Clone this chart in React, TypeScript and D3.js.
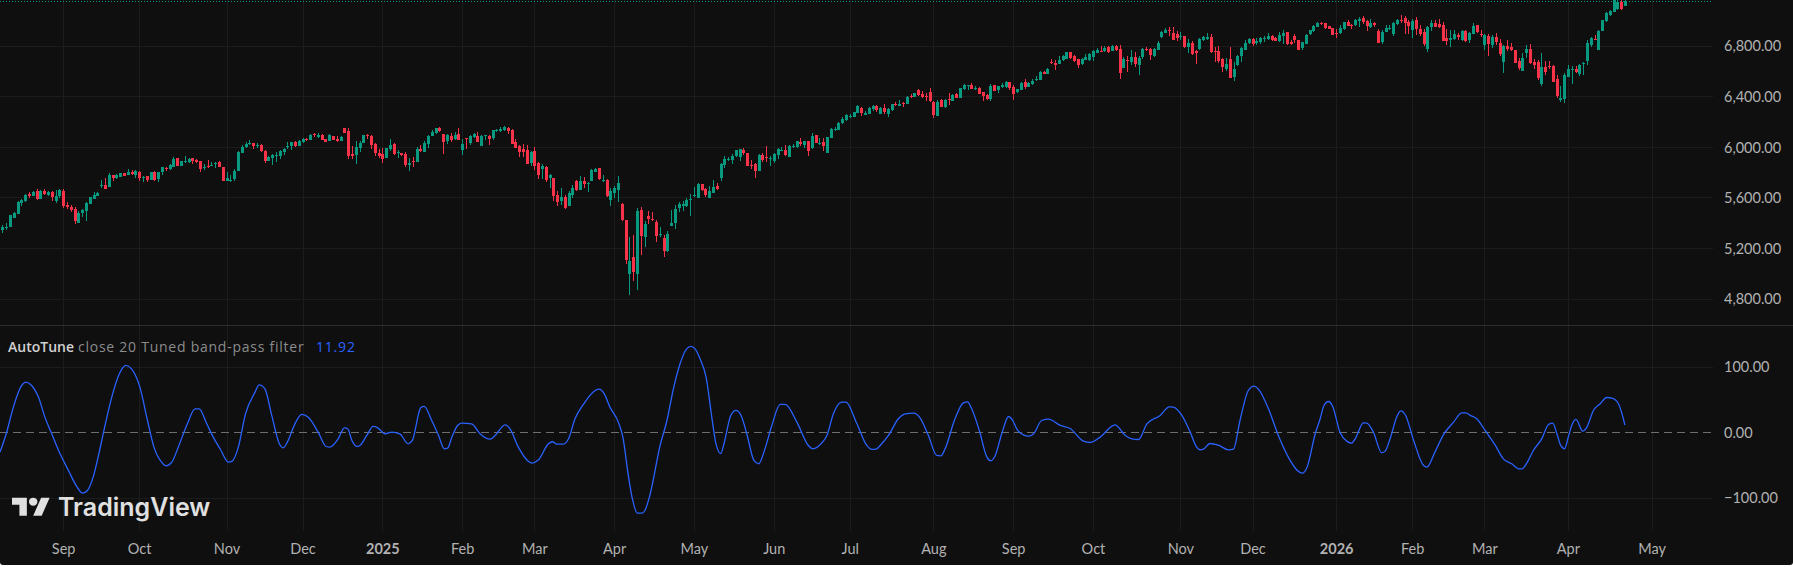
import React, { useEffect, useRef } from "react";
import { select, scaleLinear, axisRight, axisBottom, line, curveMonotoneX, range } from "d3";

const priceTicks = [4800, 5200, 5600, 6000, 6400, 6800];
const oscTicks = [-100, 0, 100];
const monthLabels = ["Sep", "Oct", "Nov", "Dec", "2025", "Feb", "Mar", "Apr", "May", "Jun", "Jul", "Aug", "Sep", "Oct", "Nov", "Dec", "2026", "Feb", "Mar", "Apr", "May"];
const monthBars = [16, 36, 59, 79, 100, 121, 140, 161, 182, 203, 223, 245, 266, 287, 310, 329, 351, 371, 390, 412, 434];

const opens = [
  5346, 5358, 5369, 5445, 5474, 5559, 5575, 5630, 5617, 5651,
  5593, 5651, 5625, 5646, 5572, 5614, 5654, 5543, 5525, 5511,
  5403, 5480, 5495, 5554, 5591, 5617, 5694, 5699, 5686, 5778,
  5759, 5767, 5796, 5781, 5804, 5781, 5804, 5757, 5770, 5741,
  5804, 5749, 5802, 5836, 5831, 5847, 5913, 5855, 5884, 5884,
  5913, 5899, 5889, 5842, 5852, 5855, 5873, 5884, 5841, 5733,
  5733, 5746, 5815, 5957, 6002, 6026, 6031, 6013, 6018, 5971,
  5892, 5918, 5936, 5928, 5963, 6005, 6013, 6042, 6013, 6042,
  6066, 6060, 6103, 6082, 6097, 6066, 6050, 6089, 6066, 6050,
  6153, 6129, 5947, 5939, 5994, 6034, 6097, 6089, 6026, 5955,
  5947, 5915, 5987, 6026, 5958, 5955, 5947, 5860, 5892, 5884,
  5987, 5963, 6026, 6089, 6113, 6153, 6106, 6053, 6090, 6066,
  6106, 5979, 6074, 6035, 6082, 6090, 6011, 6093, 6090, 6074,
  6132, 6130, 6137, 6153, 6137, 6042, 6011, 5987, 5979, 5876,
  5971, 5876, 5829, 5845, 5757, 5757, 5623, 5575, 5607, 5536,
  5623, 5734, 5662, 5734, 5713, 5734, 5805, 5837, 5736, 5742,
  5583, 5639, 5662, 5551, 5425, 4997, 5132, 4997, 5504, 5290,
  5456, 5433, 5409, 5309, 5282, 5180, 5377, 5401, 5520, 5536,
  5536, 5586, 5618, 5599, 5710, 5670, 5599, 5639, 5694, 5757,
  5860, 5905, 5900, 5932, 5924, 5979, 5955, 5860, 5868, 5813,
  5940, 5924, 5911, 5892, 5940, 5974, 5979, 5924, 6006, 6003,
  6042, 6019, 6050, 5995, 6098, 6029, 6042, 5955, 6074, 6140,
  6137, 6193, 6217, 6243, 6240, 6272, 6312, 6256, 6264, 6304,
  6327, 6264, 6312, 6264, 6296, 6343, 6327, 6351, 6343, 6407,
  6399, 6454, 6422, 6407, 6438, 6359, 6248, 6375, 6319, 6380,
  6367, 6422, 6391, 6462, 6489, 6494, 6465, 6470, 6438, 6415,
  6383, 6494, 6454, 6478, 6478, 6517, 6478, 6438, 6454, 6517,
  6478, 6502, 6539, 6533, 6596, 6581, 6676, 6668, 6660, 6692,
  6700, 6755, 6723, 6700, 6660, 6692, 6692, 6715, 6747, 6763,
  6763, 6795, 6763, 6802, 6779, 6628, 6692, 6676, 6715, 6652,
  6715, 6779, 6779, 6723, 6771, 6874, 6905, 6929, 6905, 6897,
  6876, 6882, 6795, 6826, 6763, 6779, 6850, 6858, 6874, 6763,
  6763, 6700, 6620, 6700, 6557, 6652, 6723, 6771, 6826, 6858,
  6826, 6834, 6861, 6858, 6882, 6866, 6842, 6882, 6913, 6834,
  6882, 6850, 6787, 6818, 6897, 6921, 6953, 6984, 6984, 6961,
  6945, 6905, 6905, 6937, 6992, 6971, 6969, 7000, 7024, 7000,
  6953, 6984, 6921, 6834, 6913, 6940, 6897, 6977, 7008, 7024,
  6992, 6929, 7008, 6937, 6913, 6779, 6953, 6984, 6977, 6969,
  6866, 6850, 6858, 6889, 6850, 6921, 6850, 6897, 6969, 6897,
  6810, 6882, 6810, 6874, 6826, 6676, 6802, 6795, 6771, 6684,
  6604, 6747, 6779, 6676, 6676, 6502, 6636, 6644, 6644, 6541,
  6375, 6383, 6557, 6615, 6620, 6581, 6663, 6684, 6810, 6858,
  6771, 6921, 7000, 7048, 7072, 7095, 7150, 7119,
];

const highs = [
  5385, 5398, 5464, 5485, 5572, 5591, 5630, 5643, 5651, 5667,
  5659, 5667, 5651, 5651, 5659, 5667, 5667, 5564, 5543, 5532,
  5495, 5509, 5567, 5609, 5646, 5646, 5741, 5757, 5796, 5783,
  5786, 5796, 5796, 5825, 5818, 5820, 5810, 5773, 5773, 5804,
  5810, 5804, 5844, 5847, 5868, 5923, 5915, 5894, 5931, 5915,
  5915, 5907, 5894, 5868, 5899, 5884, 5884, 5892, 5841, 5804,
  5778, 5828, 5968, 6018, 6042, 6058, 6034, 6034, 6023, 5976,
  5928, 5947, 5963, 5979, 5994, 6042, 6042, 6050, 6058, 6074,
  6074, 6103, 6111, 6113, 6105, 6068, 6105, 6089, 6089, 6089,
  6153, 6153, 6010, 6050, 6050, 6097, 6105, 6097, 6034, 5987,
  5995, 5995, 6066, 6034, 5979, 5955, 5963, 5915, 5923, 6003,
  6018, 6050, 6097, 6137, 6153, 6161, 6106, 6106, 6114, 6122,
  6153, 6066, 6074, 6098, 6114, 6122, 6098, 6098, 6098, 6137,
  6145, 6161, 6169, 6161, 6145, 6066, 6019, 6027, 6019, 5971,
  6003, 5884, 5868, 5852, 5789, 5757, 5655, 5678, 5623, 5655,
  5702, 5742, 5773, 5765, 5726, 5829, 5837, 5837, 5781, 5750,
  5678, 5694, 5773, 5559, 5425, 5290, 5306, 5520, 5528, 5417,
  5496, 5488, 5425, 5370, 5306, 5338, 5504, 5544, 5567, 5575,
  5599, 5631, 5686, 5718, 5710, 5678, 5694, 5742, 5718, 5876,
  5932, 5924, 5947, 5979, 5987, 5995, 5955, 5900, 5876, 5947,
  5955, 6011, 5932, 5955, 5995, 6003, 6019, 6019, 6027, 6050,
  6074, 6050, 6050, 6114, 6098, 6074, 6074, 6082, 6153, 6161,
  6201, 6240, 6264, 6264, 6280, 6335, 6320, 6288, 6320, 6335,
  6335, 6320, 6343, 6312, 6343, 6359, 6375, 6359, 6407, 6422,
  6430, 6462, 6446, 6430, 6470, 6367, 6375, 6383, 6383, 6430,
  6422, 6430, 6470, 6502, 6494, 6509, 6486, 6478, 6438, 6422,
  6502, 6494, 6486, 6509, 6525, 6517, 6494, 6462, 6517, 6541,
  6517, 6541, 6565, 6604, 6604, 6628, 6700, 6692, 6723, 6731,
  6755, 6755, 6731, 6700, 6707, 6739, 6747, 6771, 6787, 6802,
  6802, 6802, 6810, 6810, 6810, 6715, 6723, 6771, 6755, 6723,
  6787, 6795, 6787, 6787, 6842, 6921, 6945, 6953, 6953, 6921,
  6913, 6882, 6858, 6842, 6771, 6866, 6882, 6905, 6897, 6795,
  6802, 6707, 6707, 6795, 6676, 6731, 6795, 6850, 6866, 6866,
  6866, 6874, 6882, 6905, 6889, 6874, 6913, 6929, 6913, 6850,
  6897, 6850, 6834, 6897, 6929, 6969, 6992, 6992, 6984, 6961,
  6945, 6937, 6969, 6992, 7008, 6977, 7016, 7032, 7040, 7008,
  7016, 6992, 6937, 6929, 6969, 6969, 6992, 7016, 7048, 7040,
  7008, 7016, 7032, 6969, 6937, 6961, 7008, 7008, 7016, 6992,
  6937, 6929, 6929, 6905, 6929, 6929, 6913, 6984, 6969, 6929,
  6897, 6897, 6889, 6905, 6858, 6810, 6850, 6826, 6771, 6707,
  6747, 6810, 6818, 6700, 6692, 6747, 6684, 6684, 6652, 6573,
  6486, 6589, 6652, 6644, 6644, 6660, 6676, 6850, 6874, 6889,
  6929, 7008, 7072, 7088, 7190, 7175, 7167, 7167,
];

const lows = [
  5324, 5345, 5369, 5440, 5474, 5535, 5567, 5601, 5612, 5585,
  5591, 5625, 5617, 5575, 5561, 5598, 5522, 5511, 5488, 5395,
  5403, 5448, 5416, 5551, 5591, 5614, 5678, 5670, 5686, 5733,
  5749, 5765, 5775, 5781, 5781, 5759, 5733, 5725, 5725, 5741,
  5733, 5725, 5783, 5812, 5820, 5844, 5852, 5852, 5873, 5878,
  5868, 5878, 5807, 5820, 5836, 5852, 5836, 5844, 5736, 5733,
  5725, 5730, 5815, 5955, 5994, 6016, 5987, 5994, 5963, 5876,
  5889, 5860, 5884, 5907, 5939, 5987, 5979, 6002, 6010, 6034,
  6050, 6058, 6082, 6074, 6058, 6042, 6050, 6058, 6042, 6050,
  6111, 5907, 5907, 5868, 5963, 6034, 6066, 5987, 5931, 5915,
  5876, 5915, 5971, 5939, 5915, 5931, 5844, 5812, 5844, 5884,
  5963, 5963, 5995, 6089, 6105, 6121, 5950, 6027, 6042, 6058,
  6058, 5940, 5987, 6019, 6074, 6042, 6011, 6058, 6019, 6058,
  6122, 6122, 6130, 6106, 6027, 5995, 5924, 5924, 5868, 5852,
  5821, 5750, 5750, 5726, 5678, 5575, 5536, 5544, 5512, 5536,
  5599, 5655, 5662, 5678, 5647, 5734, 5805, 5742, 5726, 5607,
  5536, 5599, 5567, 5417, 5076, 4831, 4942, 4870, 5148, 5211,
  5393, 5417, 5251, 5290, 5132, 5172, 5377, 5354, 5488, 5496,
  5528, 5457, 5607, 5599, 5655, 5607, 5599, 5639, 5662, 5734,
  5837, 5892, 5868, 5924, 5892, 5940, 5852, 5829, 5757, 5813,
  5884, 5884, 5852, 5876, 5908, 5971, 5932, 5924, 5995, 5995,
  6011, 5995, 5932, 5987, 6035, 6019, 5971, 5955, 6074, 6130,
  6137, 6185, 6209, 6232, 6240, 6272, 6248, 6256, 6264, 6288,
  6280, 6264, 6264, 6240, 6288, 6327, 6327, 6319, 6343, 6391,
  6399, 6407, 6391, 6367, 6359, 6232, 6248, 6319, 6311, 6335,
  6367, 6391, 6391, 6454, 6454, 6462, 6454, 6422, 6367, 6375,
  6367, 6446, 6430, 6470, 6470, 6454, 6375, 6430, 6454, 6462,
  6478, 6494, 6525, 6533, 6581, 6581, 6660, 6612, 6660, 6684,
  6700, 6700, 6676, 6628, 6652, 6692, 6684, 6684, 6747, 6755,
  6755, 6747, 6763, 6763, 6541, 6628, 6596, 6652, 6636, 6573,
  6700, 6763, 6692, 6715, 6771, 6866, 6905, 6882, 6850, 6842,
  6850, 6787, 6747, 6731, 6660, 6771, 6842, 6850, 6747, 6676,
  6668, 6596, 6604, 6549, 6525, 6644, 6676, 6771, 6818, 6802,
  6810, 6818, 6834, 6850, 6842, 6842, 6834, 6818, 6810, 6810,
  6826, 6771, 6771, 6818, 6889, 6913, 6953, 6969, 6937, 6937,
  6889, 6866, 6897, 6929, 6961, 6937, 6961, 6953, 6977, 6921,
  6945, 6953, 6826, 6818, 6913, 6929, 6882, 6969, 6984, 6897,
  6897, 6866, 6889, 6882, 6802, 6755, 6921, 6953, 6945, 6842,
  6810, 6795, 6850, 6850, 6842, 6834, 6826, 6897, 6905, 6874,
  6771, 6723, 6787, 6810, 6723, 6589, 6763, 6763, 6668, 6612,
  6604, 6707, 6660, 6620, 6533, 6486, 6573, 6620, 6517, 6391,
  6359, 6351, 6557, 6502, 6589, 6565, 6573, 6652, 6795, 6850,
  6771, 6921, 6992, 7040, 7072, 7090, 7087, 7119,
];

const closes = [
  5369, 5366, 5461, 5477, 5567, 5583, 5627, 5617, 5643, 5591,
  5654, 5633, 5646, 5609, 5614, 5662, 5538, 5525, 5501, 5416,
  5480, 5503, 5559, 5604, 5627, 5638, 5699, 5672, 5781, 5754,
  5778, 5794, 5775, 5804, 5789, 5810, 5759, 5762, 5741, 5802,
  5741, 5802, 5841, 5825, 5860, 5907, 5855, 5889, 5889, 5907,
  5892, 5886, 5828, 5847, 5844, 5860, 5878, 5847, 5736, 5757,
  5738, 5812, 5963, 6000, 6026, 6031, 6010, 6018, 5971, 5892,
  5923, 5939, 5942, 5971, 5989, 6010, 6042, 6010, 6050, 6066,
  6058, 6097, 6095, 6097, 6060, 6045, 6097, 6060, 6050, 6081,
  6116, 5931, 5931, 6002, 6034, 6097, 6089, 6018, 5955, 5931,
  5907, 5995, 6018, 5947, 5963, 5939, 5860, 5878, 5886, 5987,
  5971, 6034, 6089, 6121, 6153, 6129, 6045, 6098, 6058, 6098,
  6058, 6027, 6069, 6090, 6106, 6042, 6090, 6098, 6066, 6137,
  6137, 6145, 6161, 6130, 6027, 5995, 5963, 5963, 5868, 5963,
  5852, 5781, 5852, 5742, 5781, 5615, 5567, 5607, 5520, 5639,
  5678, 5662, 5734, 5710, 5718, 5821, 5829, 5750, 5742, 5615,
  5655, 5678, 5718, 5425, 5108, 5100, 5013, 5496, 5298, 5393,
  5433, 5428, 5298, 5314, 5180, 5314, 5401, 5512, 5552, 5552,
  5583, 5591, 5623, 5710, 5662, 5623, 5655, 5686, 5670, 5868,
  5908, 5911, 5932, 5979, 5987, 5955, 5852, 5855, 5813, 5940,
  5900, 5918, 5916, 5947, 5987, 5979, 5940, 6011, 6011, 6050,
  6027, 6050, 5971, 6090, 6035, 6035, 6011, 6082, 6145, 6145,
  6193, 6225, 6256, 6248, 6280, 6327, 6272, 6272, 6312, 6327,
  6296, 6312, 6280, 6304, 6343, 6338, 6343, 6346, 6399, 6399,
  6430, 6415, 6399, 6402, 6367, 6256, 6359, 6319, 6375, 6375,
  6415, 6391, 6470, 6494, 6494, 6462, 6470, 6422, 6407, 6383,
  6486, 6446, 6486, 6494, 6517, 6470, 6422, 6462, 6509, 6478,
  6509, 6525, 6544, 6596, 6581, 6620, 6671, 6652, 6692, 6723,
  6755, 6707, 6684, 6652, 6700, 6715, 6739, 6763, 6771, 6758,
  6787, 6755, 6802, 6771, 6589, 6700, 6686, 6715, 6660, 6707,
  6779, 6774, 6731, 6779, 6826, 6913, 6929, 6924, 6850, 6866,
  6881, 6795, 6826, 6739, 6747, 6858, 6874, 6874, 6755, 6758,
  6684, 6636, 6660, 6549, 6620, 6723, 6787, 6826, 6858, 6818,
  6842, 6866, 6866, 6882, 6850, 6842, 6889, 6905, 6818, 6818,
  6850, 6771, 6834, 6889, 6929, 6961, 6984, 6979, 6945, 6937,
  6889, 6900, 6945, 6992, 6961, 6966, 7008, 7016, 6992, 6961,
  6984, 6969, 6826, 6913, 6945, 6945, 6984, 7008, 7003, 6984,
  6961, 7000, 6937, 6897, 6818, 6953, 6984, 6953, 6953, 6842,
  6842, 6866, 6897, 6874, 6921, 6842, 6905, 6961, 6913, 6892,
  6889, 6818, 6874, 6834, 6739, 6802, 6779, 6771, 6668, 6628,
  6707, 6779, 6668, 6652, 6549, 6636, 6596, 6639, 6517, 6407,
  6391, 6573, 6620, 6620, 6596, 6652, 6668, 6826, 6866, 6853,
  6921, 7008, 7064, 7080, 7170, 7150, 7095, 7156,
];

// band-pass readings, bar position and value
const oscBars = [
  -0.6, 1.1, 2.9, 5.1, 6.2, 7.7, 9.5, 11.2, 13, 15.2, 17.4, 19.7, 21.1, 22.4, 23.9, 25.4, 26.6, 28.8, 30.8, 32.5,
  34, 36.2, 38.2, 39.9, 41.9, 43.1, 44.6, 46.3, 48.7, 50.7, 51.8, 53.8, 55.5, 57.3, 59.5, 60.5, 62.1, 64, 66.5, 67.6,
  69.1, 70.9, 72.9, 73.9, 75, 77, 78.8, 80.5, 83.2, 85.2, 86.2, 88.4, 90, 90.9, 92, 93.4, 94.1, 95.9, 97.6, 98.8,
  100.7, 102.5, 104.6, 106.8, 107.9, 110.1, 111, 113, 114.8, 116.3, 117.2, 118.3, 119.8, 120.9, 123.5, 125.7, 128.4, 129.7, 132.3, 133.6,
  135.8, 138.4, 139.3, 141.1, 143.7, 144.8, 145.9, 147.7, 149, 150.7, 152.9, 156, 157.1, 158.4, 159.9, 162.1, 163.3, 164.8, 165.9, 167.1,
  168.3, 169.1, 170.5, 173.1, 174.9, 176.6, 178.2, 180.1, 181.2, 182.3, 183.6, 185.2, 186.7, 187.8, 189.1, 189.9, 191.7, 193.1, 194.6, 195.9,
  197.8, 199, 200.7, 202.5, 204.7, 206, 209.1, 212.1, 213.3, 215.6, 217, 218.7, 220.9, 222, 224.9, 227.5, 228.8, 230.1, 231, 233.2,
  235.8, 237.6, 239.8, 241.5, 243.7, 245.9, 247, 248.1, 250.7, 252.9, 254, 255.1, 257.1, 259.1, 260.1, 261.3, 263, 264.8, 265.8, 267.1,
  268.7, 270, 271.4, 273.5, 275.3, 278.4, 281, 284.5, 286.3, 288.9, 292.8, 295.5, 297.2, 299, 301.2, 304.7, 307.1, 308.2, 310.4, 312.6,
  314.3, 315.2, 316.1, 317.8, 320, 322.7, 324, 325.7, 327.9, 329.4, 330.7, 333.2, 335.8, 338.9, 340.6, 342.1, 343.3, 345.5, 346.8, 347.8,
  349, 350.1, 352, 353.8, 355.1, 356, 358.2, 359.1, 360.8, 363, 363.9, 365.2, 367, 368, 369.2, 371.4, 374, 374.9, 377, 379.3,
  381.9, 384.1, 385.1, 386.3, 388, 390.2, 392.9, 395, 397.2, 399.2, 399.9, 401.2, 402.9, 405.1, 406.9, 408, 409.1, 410.1, 411.1, 412.1,
  413, 414.1, 415.9, 417, 418.7, 420.5, 422.2, 423.6, 425.3, 427,
];
const oscValues = [
  -29.5, 0, 39.2, 72.3, 77.4, 72.3, 54.5, 23.9, -1.5, -32.1, -57.5, -83, -92.1, -88, -67.7, -32.1, 0, 54.5, 90.1, 102.8,
  97.7, 69.7, 18.8, -21.9, -44.8, -50.4, -44.8, -21.9, 13.7, 36.6, 36.6, 13.7, -6.6, -24.4, -44.8, -43.3, -21.9, 29, 62.1, 73.3,
  67.2, 26.5, -16.8, -22.9, -14.2, 13.7, 28, 23.9, 0, -20.9, -21.9, -9.2, 7.6, 6.1, -11.7, -20.9, -19.3, -4.1, 9.7, 7.6,
  -1.5, 1, -1.5, -16.8, -11.7, 38.2, 40.2, 18.8, -4.1, -24.4, -23.4, -6.6, 11.2, 14.8, 13.7, -1.5, -9.7, -4.1, 12.2, 6.1,
  -21.9, -43.3, -46.3, -41.2, -16.8, -13.7, -17.3, -17.3, -9.2, 21.4, 43.3, 64.6, 66.7, 59.5, 39.2, 16.3, -6.6, -67.7, -103.3, -122.6,
  -122.6, -118.6, -93.1, -19.3, 18.8, 67.2, 102.8, 128.2, 131.8, 128.2, 113, 85, 23.9, -16.8, -31.6, -16.8, 26.5, 34.1, 23.9, -1.5,
  -42.2, -47.3, -24.4, 11.2, 43.3, 43.3, 16.3, -19.3, -24.4, -15.8, -4.1, 29, 46.8, 46.8, 13.7, -19.3, -25.4, -24.4, -19.3, -4.1,
  21.4, 29, 30, 22.9, -4.1, -34.6, -35.1, -24.4, 21.4, 45.8, 47.3, 36.6, 3.6, -37.2, -42.7, -34.6, -1.5, 24.9, 19.8, 4.6,
  -3.1, -5.1, -1.5, 18.8, 20.9, 11.2, 6.6, -12.7, -14.8, -6.6, 12.2, -4.1, -9.2, -10.2, 13.7, 26.5, 39.7, 39.2, 26.5, 1,
  -21.9, -26, -24.9, -16.3, -18.8, -26, -24.9, 18.8, 64.6, 71.2, 65.6, 36.6, -4.1, -42.2, -56.5, -61.6, -53.4, -1.5, 21.4, 41.7,
  47.8, 40.2, 1, -12.7, -15.8, -9.2, 15.3, 14.8, 1, -30.5, -28, -9.2, 24.9, 33.6, 27.5, -11.7, -49.9, -52.4, -29.5, -2.5,
  16.3, 30.5, 30.5, 26.5, 21.4, 3.6, -19.3, -39.7, -47.3, -55, -55, -45.8, -27, -9.2, 12.7, 14.8, -1.5, -19.3, -24.4, -6.6,
  11.2, 20.4, 2.5, 8.7, 34.1, 44.3, 53.9, 52.9, 44.3, 11.92,
];

const WIDTH = 1793;
const HEIGHT = 567;
const BG = "#0f0f0f";
const GRID = "#1c1c1c";
const UP = "#089981";
const DOWN = "#f7334a";
const AXIS_TEXT = "#b2b2b2";
const FONT = "Lato, 'Noto Sans', sans-serif";
const LEGEND_FONT = "'Open Sans', 'Noto Sans', sans-serif";

const App: React.FC = () => {
  const svgRef = useRef<SVGSVGElement>(null);

  useEffect(() => {
    const svg = select(svgRef.current);
    svg.selectAll("*").remove();

    const plotRight = 1713;
    const paneSplit = 325;
    const timeTop = 531;

    const x = scaleLinear().domain([0, 1]).range([2.33, 6.13]);
    const yPrice = scaleLinear().domain([4800, 6800]).range([299, 46.3]);
    const yOsc = scaleLinear().domain([-100, 100]).range([498.3, 367.3]);

    // page shows a sliver of white under the rounded bottom corners
    svg.append("rect").attr("width", WIDTH).attr("height", HEIGHT).attr("fill", "#ffffff");
    svg
      .append("path")
      .attr("d", `M0,0H${WIDTH}V562a3,3 0 0 1 -3,3H3a3,3 0 0 1 -3,-3Z`)
      .attr("fill", BG);

    const defs = svg.append("defs");
    defs.append("clipPath").attr("id", "clip-price").append("rect").attr("width", plotRight).attr("height", paneSplit);
    defs
      .append("clipPath")
      .attr("id", "clip-osc")
      .append("rect")
      .attr("y", paneSplit)
      .attr("width", plotRight)
      .attr("height", timeTop - paneSplit);

    // grid
    const grid = svg.append("g").attr("stroke", GRID).attr("stroke-width", 1).attr("shape-rendering", "crispEdges");
    grid
      .selectAll("line.v")
      .data(monthBars)
      .enter()
      .append("line")
      .attr("x1", (d) => Math.round(x(d)) + 0.5)
      .attr("x2", (d) => Math.round(x(d)) + 0.5)
      .attr("y1", 0)
      .attr("y2", timeTop);
    grid
      .selectAll("line.p")
      .data(priceTicks)
      .enter()
      .append("line")
      .attr("x1", 0)
      .attr("x2", plotRight)
      .attr("y1", (d) => Math.floor(yPrice(d)) + 0.5)
      .attr("y2", (d) => Math.floor(yPrice(d)) + 0.5);
    grid
      .selectAll("line.o")
      .data(oscTicks.filter((t) => t !== 0))
      .enter()
      .append("line")
      .attr("x1", 0)
      .attr("x2", plotRight)
      .attr("y1", (d) => Math.floor(yOsc(d)) + 0.5)
      .attr("y2", (d) => Math.floor(yOsc(d)) + 0.5);

    svg
      .append("line")
      .attr("x1", 0)
      .attr("x2", WIDTH)
      .attr("y1", paneSplit + 0.5)
      .attr("y2", paneSplit + 0.5)
      .attr("stroke", "#2e2e2e");

    // candles
    const bars = range(opens.length);
    const candles = svg
      .append("g")
      .attr("clip-path", "url(#clip-price)")
      .attr("shape-rendering", "crispEdges");
    const color = (i: number) => (closes[i] >= opens[i] ? UP : DOWN);
    candles
      .selectAll("rect.wick")
      .data(bars)
      .enter()
      .append("rect")
      .attr("x", (i) => Math.round(x(i)))
      .attr("width", 1)
      .attr("y", (i) => yPrice(highs[i]))
      .attr("height", (i) => Math.max(1, yPrice(lows[i]) - yPrice(highs[i])))
      .attr("fill", color);
    candles
      .selectAll("rect.body")
      .data(bars)
      .enter()
      .append("rect")
      .attr("x", (i) => Math.round(x(i)) - 1)
      .attr("width", 3)
      .attr("y", (i) => yPrice(Math.max(opens[i], closes[i])))
      .attr("height", (i) => Math.max(1, Math.abs(yPrice(opens[i]) - yPrice(closes[i]))))
      .attr("fill", color);

    // last price line
    svg
      .append("line")
      .attr("x1", 0)
      .attr("x2", 1711)
      .attr("y1", 1.5)
      .attr("y2", 1.5)
      .attr("stroke", UP)
      .attr("stroke-dasharray", "1 2");

    // oscillator
    svg
      .append("line")
      .attr("x1", 0)
      .attr("x2", plotRight)
      .attr("y1", Math.floor(yOsc(0)) + 0.5)
      .attr("y2", Math.floor(yOsc(0)) + 0.5)
      .attr("stroke", "#6e6e6e")
      .attr("stroke-dasharray", "8 5");
    const oscLine = line<number>()
      .x((b) => x(b))
      .y((_, i) => yOsc(oscValues[i]))
      .curve(curveMonotoneX);
    svg
      .append("path")
      .attr("clip-path", "url(#clip-osc)")
      .attr("d", oscLine(oscBars))
      .attr("fill", "none")
      .attr("stroke", "#2962ff")
      .attr("stroke-width", 1.3);

    // axes
    const styleAxis = (g: any) => {
      g.select(".domain").remove();
      g.selectAll("line").remove();
      g.selectAll("text").attr("fill", AXIS_TEXT).attr("font-family", FONT).attr("font-size", 14.5);
    };
    const priceFmt = (d: any) => {
      const s = Number(d).toLocaleString("en-US", { minimumFractionDigits: 2, maximumFractionDigits: 2 });
      return s;
    };
    const oscFmt = (d: any) => priceFmt(d).replace("-", "\u2212");

    svg
      .append("g")
      .attr("transform", "translate(1724,0)")
      .call(axisRight(yPrice).tickValues(priceTicks).tickFormat(priceFmt).tickSize(0).tickPadding(0) as any)
      .call(styleAxis);
    svg
      .append("g")
      .attr("transform", "translate(1724,0)")
      .call(axisRight(yOsc).tickValues(oscTicks).tickFormat(oscFmt).tickSize(0).tickPadding(0) as any)
      .call(styleAxis);
    const timeAxis = svg
      .append("g")
      .attr("transform", "translate(0,549)")
      .call(
        axisBottom(x)
          .tickValues(monthBars)
          .tickFormat((_, i) => monthLabels[i])
          .tickSize(0)
          .tickPadding(0) as any
      )
      .call(styleAxis);
    timeAxis
      .selectAll("text")
      .attr("dy", "0.32em")
      .attr("font-weight", (_, i) => (/^\d+$/.test(monthLabels[i]) ? 700 : 400));

    // legend
    const legend = svg
      .append("text")
      .attr("x", 8)
      .attr("y", 352)
      .attr("font-family", LEGEND_FONT)
      .attr("font-size", 14);
    legend.append("tspan").attr("fill", "#d1d1d1").attr("font-weight", 600).text("AutoTune");
    legend
      .append("tspan")
      .attr("fill", "#8c8c8c")
      .attr("dx", 4)
      .attr("letter-spacing", 0.75)
      .text("close 20 Tuned band-pass filter");
    legend
      .append("tspan")
      .attr("fill", "#2962ff")
      .attr("x", 316)
      .attr("letter-spacing", 0.8)
      .text(oscValues[oscValues.length - 1].toFixed(2));

    // watermark
    const mark = svg.append("g").attr("transform", "translate(12,493.7) scale(1.06,1)").attr("fill", "#e0e0e0");
    mark.append("path").attr("d", "M14 22H7V11H0V4h14v18zM28 22h-8l7.5-18h8L28 22z");
    mark.append("circle").attr("cx", 20).attr("cy", 8).attr("r", 4);
    svg
      .append("text")
      .attr("x", 58)
      .attr("y", 516)
      .attr("font-family", "Inter, sans-serif")
      .attr("font-weight", 600)
      .attr("font-size", 25)
      .attr("fill", "#e0e0e0")
      .text("TradingView");
  }, []);

  return (
    <svg
      ref={svgRef}
      width={WIDTH}
      height={HEIGHT}
      style={{ position: "absolute", left: 0, top: 0, display: "block" }}
    />
  );
};

export default App;
